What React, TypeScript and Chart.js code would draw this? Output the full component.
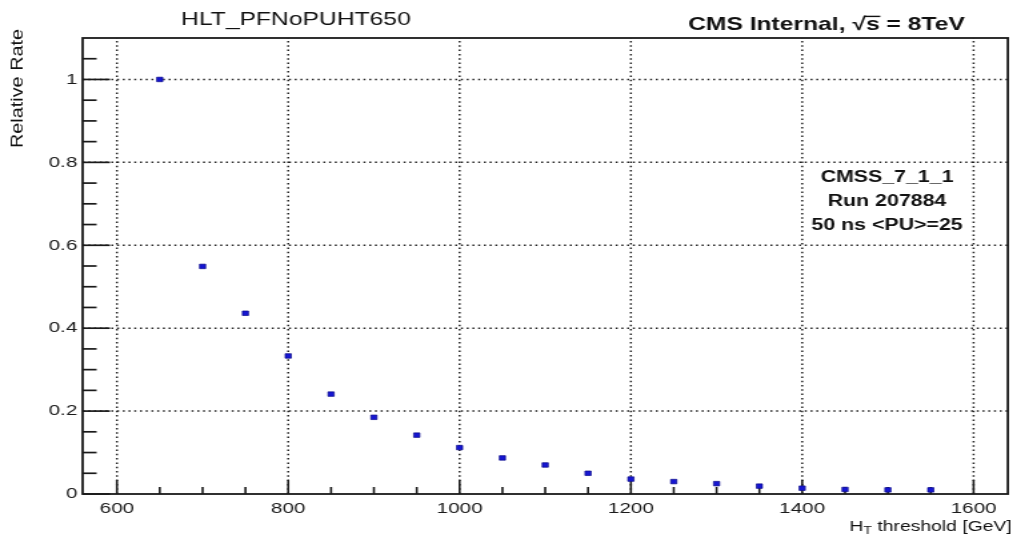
import React, { useEffect, useRef } from "react";
import { Chart, registerables } from "chart.js";

Chart.register(...registerables);

// ---- data ----
const thresholds = [650, 700, 750, 800, 850, 900, 950, 1000, 1050, 1100, 1150, 1200, 1250, 1300, 1350, 1400, 1450, 1500, 1550];
const rates = [1.0, 0.549, 0.436, 0.333, 0.241, 0.185, 0.142, 0.112, 0.087, 0.07, 0.05, 0.036, 0.03, 0.025, 0.019, 0.014, 0.011, 0.01, 0.01];
const xMajorTicks = [600, 800, 1000, 1200, 1400, 1600];
const yMajorTicks = [0, 0.2, 0.4, 0.6, 0.8, 1.0];
const xMinorTicks = [650, 700, 750, 850, 900, 950, 1050, 1100, 1150, 1250, 1300, 1350, 1450, 1500, 1550];
const yMinorTicks = [0.05, 0.1, 0.15, 0.25, 0.3, 0.35, 0.45, 0.5, 0.55, 0.65, 0.7, 0.75, 0.85, 0.9, 0.95, 1.05];
const titleText = "HLT_PFNoPUHT650";
const cmsLeft = "CMS Internal, ";
const cmsRight = " = 8TeV";
const infoLines = ["CMSS_7_1_1", "Run 207884", "50 ns <PU>=25"];
const yTitle = "Relative Rate";

const FONT = '"Liberation Sans", Arial, Helvetica, sans-serif';
const INTERNAL_W = 760;
const H = 536;

const rootPlugin = {
  id: "rootStyle",
  beforeDatasetsDraw(chart: any) {
    const { ctx, chartArea: a, scales } = chart;
    const xs = scales.x;
    const ys = scales.y;
    ctx.save();
    // dotted grid
    ctx.strokeStyle = "#222";
    ctx.lineWidth = 1.5;
    ctx.setLineDash([1.5, 2.8]);
    for (const v of xMajorTicks) {
      const px = xs.getPixelForValue(v);
      ctx.beginPath();
      ctx.moveTo(px, a.bottom);
      ctx.lineTo(px, a.top);
      ctx.stroke();
    }
    for (const v of yMajorTicks) {
      if (v === 0) continue;
      const py = ys.getPixelForValue(v);
      ctx.beginPath();
      ctx.moveTo(a.left, py);
      ctx.lineTo(a.right, py);
      ctx.stroke();
    }
    ctx.setLineDash([]);
    // ticks (inward)
    ctx.strokeStyle = "#1a1a1a";
    ctx.lineWidth = 1.7;
    for (const v of yMajorTicks) {
      const py = ys.getPixelForValue(v);
      ctx.beginPath();
      ctx.moveTo(a.left, py);
      ctx.lineTo(a.left + 20.5, py);
      ctx.stroke();
    }
    for (const v of yMinorTicks) {
      const py = ys.getPixelForValue(v);
      ctx.beginPath();
      ctx.moveTo(a.left, py);
      ctx.lineTo(a.left + 10.5, py);
      ctx.stroke();
    }
    ctx.lineWidth = 1.6;
    for (const v of xMajorTicks) {
      const px = xs.getPixelForValue(v);
      ctx.beginPath();
      ctx.moveTo(px, a.bottom);
      ctx.lineTo(px, a.bottom - 14);
      ctx.stroke();
    }
    for (const v of xMinorTicks) {
      const px = xs.getPixelForValue(v);
      ctx.beginPath();
      ctx.moveTo(px, a.bottom);
      ctx.lineTo(px, a.bottom - 7);
      ctx.stroke();
    }
    // frame
    ctx.lineWidth = 1.8;
    ctx.strokeStyle = "#1a1a1a";
    ctx.strokeRect(a.left, a.top, a.right - a.left, a.bottom - a.top);
    ctx.restore();
  },
  afterDraw(chart: any) {
    const { ctx } = chart;
    ctx.save();
    ctx.fillStyle = "#111";
    // main title
    ctx.font = `18.5px ${FONT}`;
    ctx.textAlign = "center";
    ctx.textBaseline = "alphabetic";
    ctx.fillText(titleText, 222, 25);

    // CMS Internal, sqrt(s) = 8TeV
    ctx.font = `bold 18.5px ${FONT}`;
    ctx.textAlign = "left";
    const wL = ctx.measureText(cmsLeft).width;
    const wRoot = ctx.measureText("\u221A").width;
    const wS = ctx.measureText("s").width;
    const wR = ctx.measureText(cmsRight).width;
    const total = wL + wRoot + wS + wR;
    const x0 = 620 - total / 2;
    const base = 30;
    ctx.fillText(cmsLeft, x0, base);
    ctx.fillText("\u221A", x0 + wL, base);
    ctx.fillText("s", x0 + wL + wRoot, base);
    ctx.fillText(cmsRight, x0 + wL + wRoot + wS, base);
    ctx.strokeStyle = "#111";
    ctx.lineWidth = 1.4;
    ctx.beginPath();
    ctx.moveTo(x0 + wL + wRoot - 1, base - 13.6);
    ctx.lineTo(x0 + wL + wRoot + wS + 0.5, base - 13.6);
    ctx.stroke();

    // info box
    ctx.font = `bold 16px ${FONT}`;
    ctx.textAlign = "center";
    const bases = [182, 206, 230];
    infoLines.forEach((t, i) => ctx.fillText(t, 665.5, bases[i]));

    // y title (elongated along reading direction like the reference)
    ctx.save();
    ctx.font = `13.5px ${FONT}`;
    const wY = ctx.measureText(yTitle).width;
    ctx.translate(13.3, 29);
    ctx.rotate(-Math.PI / 2);
    ctx.scale(119 / wY, 1);
    ctx.textAlign = "right";
    ctx.textBaseline = "middle";
    ctx.fillText(yTitle, 0, 0);
    ctx.restore();

    // x title: H_T threshold [GeV]
    const big = `14.5px ${FONT}`;
    const small = `10.5px ${FONT}`;
    ctx.textAlign = "left";
    ctx.textBaseline = "alphabetic";
    ctx.font = big;
    const wH = ctx.measureText("H").width;
    const rest = " threshold [GeV]";
    const wRest = ctx.measureText(rest).width;
    ctx.font = small;
    const wT = ctx.measureText("T").width;
    const xb = 530.5;
    const sx = 759 - (wH + wT + wRest);
    ctx.font = big;
    ctx.fillText("H", sx, xb);
    ctx.font = small;
    ctx.fillText("T", sx + wH, xb + 3.5);
    ctx.font = big;
    ctx.fillText(rest, sx + wH + wT, xb);
    ctx.restore();
  },
};

export default function App() {
  const ref = useRef<HTMLCanvasElement | null>(null);
  useEffect(() => {
    document.body.style.margin = "0";
    const canvas = ref.current;
    if (!canvas) return;
    const chart = new Chart(canvas, {
      type: "scatter",
      data: {
        datasets: [
          {
            data: thresholds.map((x, i) => ({ x, y: rates[i] })),
            pointStyle: "rect",
            pointRadius: 3.2,
            pointHoverRadius: 3.2,
            backgroundColor: "#1616d2",
            borderColor: "#0c0c8a",
            borderWidth: 0.7,
            showLine: false,
          } as any,
        ],
      },
      options: {
        responsive: false,
        animation: false,
        devicePixelRatio: 1,
        events: [],
        layout: { padding: { top: 38, right: 3, left: 0, bottom: 0 } },
        plugins: {
          legend: { display: false },
          tooltip: { enabled: false },
          title: { display: false },
        },
        scales: {
          x: {
            type: "linear",
            min: 560,
            max: 1640,
            afterBuildTicks: (s: any) => {
              s.ticks = xMajorTicks.map((v) => ({ value: v }));
            },
            afterFit: (s: any) => {
              s.height = H - 494;
            },
            grid: { display: false, drawTicks: false },
            border: { display: false },
            ticks: {
              font: { family: FONT, size: 15.5 },
              color: "#1a1a1a",
              padding: 5,
              maxRotation: 0,
              autoSkip: false,
              callback: (v: any) => String(v),
            },
          },
          y: {
            type: "linear",
            min: 0,
            max: 1.1,
            afterBuildTicks: (s: any) => {
              s.ticks = yMajorTicks.map((v) => ({ value: v }));
            },
            afterFit: (s: any) => {
              s.width = 62;
            },
            grid: { display: false, drawTicks: false },
            border: { display: false },
            ticks: {
              font: { family: FONT, size: 15.5 },
              color: "#1a1a1a",
              padding: 4,
              autoSkip: false,
              callback: (v: any) => String(Number(Number(v).toFixed(2))),
            },
          },
        },
      },
      plugins: [rootPlugin],
    });
    return () => chart.destroy();
  }, []);
  return (
    <canvas
      ref={ref}
      width={INTERNAL_W}
      height={H}
      style={{ width: "1013px", height: "536px", display: "block" }}
    />
  );
}
